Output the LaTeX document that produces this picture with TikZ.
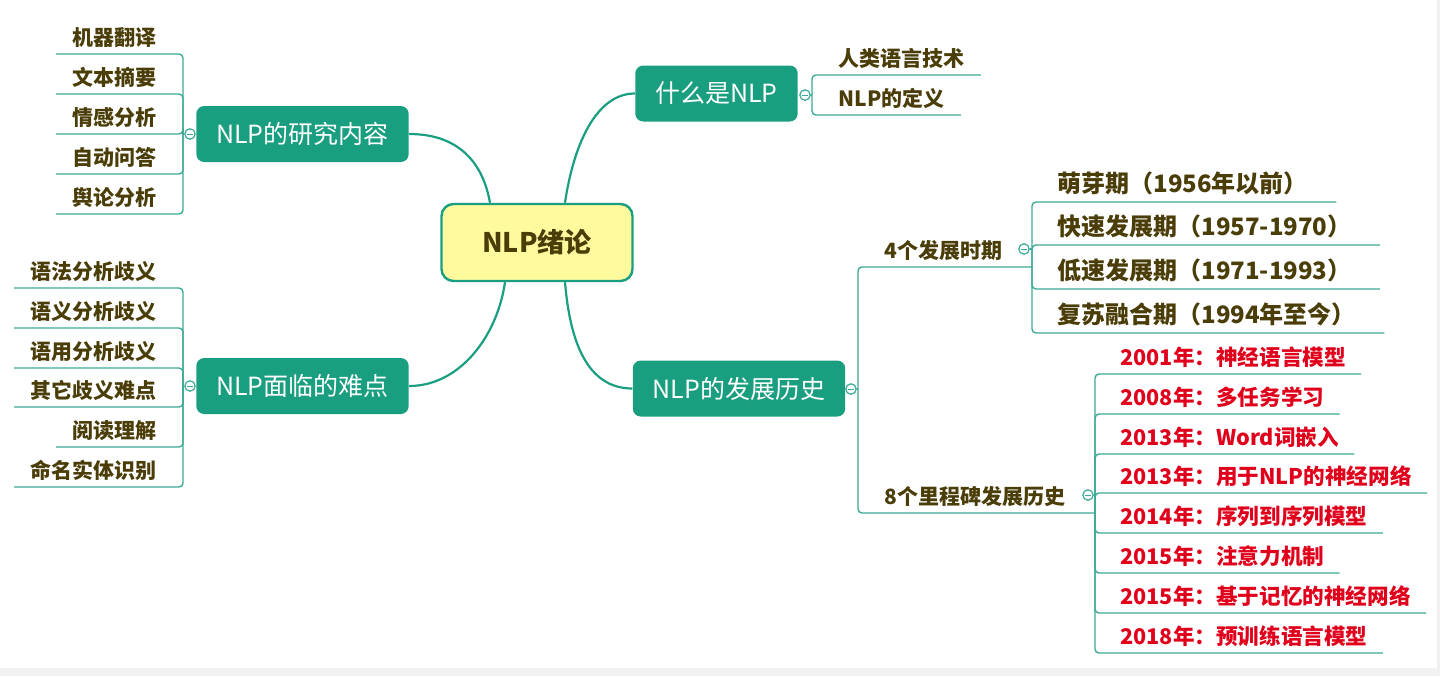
\documentclass[tikz,border=0pt]{standalone}
\usepackage{fontspec}
\setmainfont{Noto Sans CJK SC}
\definecolor{mmteal}{HTML}{1A9E80}
\definecolor{mmline}{HTML}{3AAA94}
\definecolor{mmyellow}{HTML}{FFFA9E}
\definecolor{mmtext}{HTML}{4A3D08}
\definecolor{mmred}{HTML}{E0001B}
\tikzset{
  rootbox/.style={rounded corners=6pt, fill=mmyellow, draw=mmteal, line width=1.2pt,
    minimum width=95.5pt, minimum height=38.5pt, text=mmtext,
    font=\bfseries\fontsize{13.5}{15}\selectfont},
  topic/.style={rounded corners=4pt, fill=mmteal, text=white, minimum height=28pt,
    inner xsep=10pt, font=\fontsize{12.5}{14}\selectfont},
  branch/.style={mmteal, line width=1.1pt},
  twig/.style={mmline, line width=0.7pt, rounded corners=2pt},
  fold/.style={circle, draw=mmline, fill=white, line width=0.6pt, minimum size=5.2pt, inner sep=0pt,
    path picture={\draw[mmline, line width=0.4pt] ([xshift=-1.3pt]path picture bounding box.center)
      -- ([xshift=1.3pt]path picture bounding box.center);}},
  leafL/.style={anchor=base east, inner sep=0pt, text=mmtext, font=\bfseries\fontsize{10.5}{12}\selectfont},
  leafR/.style={anchor=base west, inner sep=0pt, text=mmtext, font=\bfseries\fontsize{10.5}{12}\selectfont},
  bigleaf/.style={leafR, font=\bfseries\fontsize{12}{14}\selectfont},
  redleaf/.style={leafR, text=mmred, font=\bfseries\fontsize{10.8}{12}\selectfont},
}
\begin{document}
\begin{tikzpicture}[x=0.5pt,y=-0.5pt]
\useasboundingbox (0,0) rectangle (1440,676);
\fill[gray!10] (0,668) rectangle (1440,676);
\fill[gray!12] (1437,0) rectangle (1440,668);

% root and main topics
\node[rootbox] (root) at (537,242.5) {NLP绪论};
\node[topic] (what) at (716.5,93.5) {什么是NLP};
\node[topic] (research) at (302.5,134) {NLP的研究内容};
\node[topic] (hard) at (302.5,386) {NLP面临的难点};
\node[topic] (hist) at (739,388.5) {NLP的发展历史};

\draw[branch] ([xshift=-23.5pt]root.north) .. controls +(-8,-45) and +(45,0) .. (research.east);
\draw[branch] ([xshift=14pt]root.north) .. controls +(8,-55) and +(-40,0) .. (what.west);
\draw[branch] ([xshift=-16pt]root.south) .. controls +(-8,55) and +(50,0) .. (hard.east);
\draw[branch] ([xshift=14pt]root.south) .. controls +(5,60) and +(-45,0) .. (hist.west);

% research content
\node[fold] (rfold) at (190,134) {};
\coordinate (rtrunk) at (183,134);
\draw[twig] (rfold) -- (rtrunk);
\foreach \i/\lab/\uy in {1/机器翻译/54, 2/文本摘要/94, 3/情感分析/134, 4/自动问答/174, 5/舆论分析/214}{
  \node[leafL] (r\i) at (157,\uy-9) {\lab};
  \draw[twig] (rtrunk) |- ([shift={(-8pt,-4.5pt)}]r\i.base west);
}

% difficulties
\node[fold] (hfold) at (190,386) {};
\coordinate (htrunk) at (183,386);
\draw[twig] (hfold) -- (htrunk);
\foreach \i/\lab/\uy in {1/语法分析歧义/288, 2/语义分析歧义/328, 3/语用分析歧义/368,
    4/其它歧义难点/407, 5/阅读理解/447, 6/命名实体识别/487}{
  \node[leafL] (h\i) at (157,\uy-9) {\lab};
  \draw[twig] (htrunk) |- ([shift={(-8pt,-4.5pt)}]h\i.base west);
}

% what is NLP
\node[fold] (wfold) at (805,95) {};
\coordinate (wtrunk) at (812,95);
\draw[twig] (wfold) -- (wtrunk);
\foreach \i/\lab/\uy in {1/人类语言技术/75, 2/NLP的定义/115}{
  \node[leafR] (w\i) at (838,\uy-9) {\lab};
  \draw[twig] (wtrunk) |- ([shift={(8pt,-4.5pt)}]w\i.base east);
}

% history
\node[fold] (dfold) at (851,389) {};
\coordinate (dtrunk) at (858,389);
\draw[twig] (dfold) -- (dtrunk);
\node[leafR] (per) at (884,258) {4个发展时期};
\node[leafR] (mile) at (884,504) {8个里程碑发展历史};
\coordinate (pjoin) at (1032,267);
\coordinate (mjoin) at (1095,513);
\draw[twig] (dtrunk) |- (pjoin);
\draw[twig] (dtrunk) |- (mjoin);

\node[fold] (pfold) at (1024,249) {};
\coordinate (ptrunk) at (1032,249);
\draw[twig] (pfold) -- (ptrunk);
\foreach \i/\lab/\uy in {1/萌芽期（1956年以前）/202, 2/快速发展期（1957-1970）/245,
    3/低速发展期（1971-1993）/289, 4/复苏融合期（1994年至今）/333}{
  \node[bigleaf] (p\i) at (1057,\uy-10) {\lab};
  \draw[twig] (ptrunk) |- ([shift={(14pt,-5pt)}]p\i.base east);
}

\node[fold] (mfold) at (1088,495) {};
\coordinate (mtrunk) at (1095,495);
\draw[twig] (mfold) -- (mtrunk);
\foreach \i/\lab/\uy in {1/2001年：神经语言模型/374, 2/2008年：多任务学习/414, 3/2013年：Word词嵌入/454,
    4/2013年：用于NLP的神经网络/493, 5/2014年：序列到序列模型/533, 6/2015年：注意力机制/573,
    7/2015年：基于记忆的神经网络/613, 8/2018年：预训练语言模型/653}{
  \node[redleaf] (m\i) at (1120,\uy-9) {\lab};
  \draw[twig] (mtrunk) |- ([shift={(7.5pt,-4.5pt)}]m\i.base east);
}
\end{tikzpicture}
\end{document}
